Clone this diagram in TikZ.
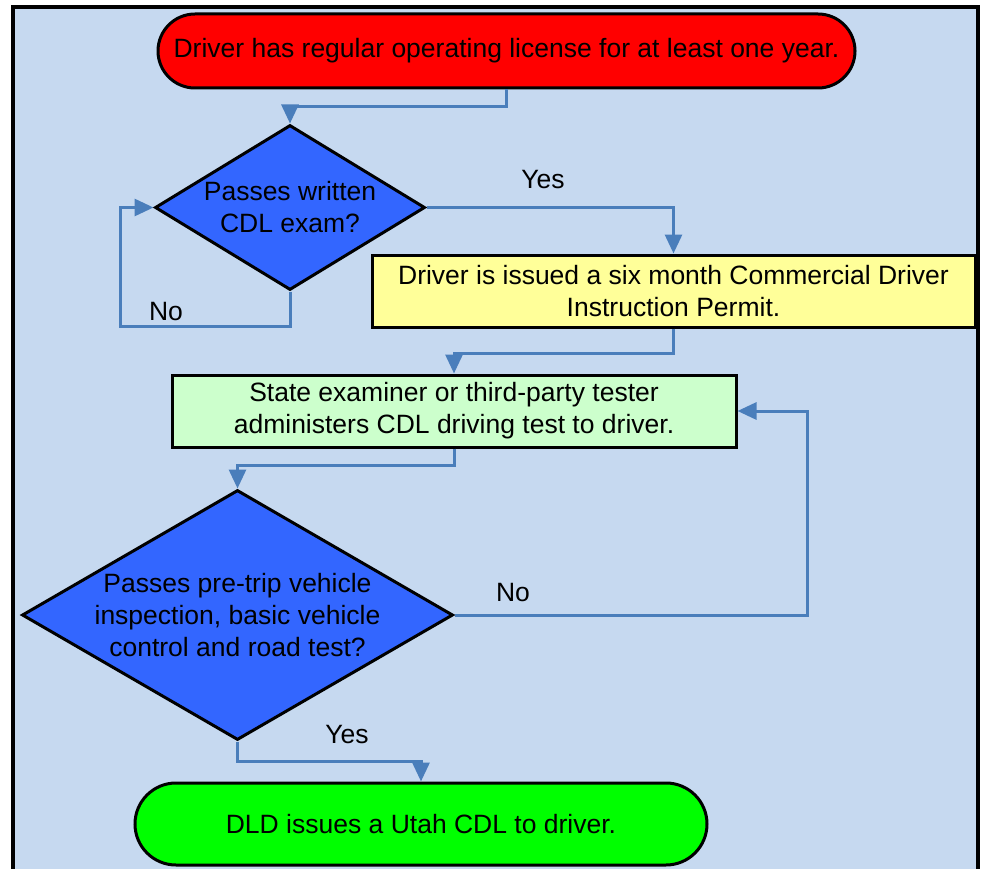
\documentclass[tikz,border=0pt]{standalone}
\usepackage{fontspec}
\setmainfont{Liberation Sans}
\usetikzlibrary{shapes.geometric,arrows.meta}
\definecolor{bgblue}{RGB}{198,217,240}
\definecolor{flowblue}{RGB}{74,126,187}
\definecolor{diablue}{RGB}{51,102,255}
\definecolor{permityellow}{RGB}{255,255,153}
\definecolor{testgreen}{RGB}{204,255,204}
\begin{document}
\begin{tikzpicture}[x=1pt,y=-1pt,
		every node/.style={font=\fontsize{26.5}{32}\selectfont},
		terminal/.style={draw,line width=3pt,align=center,inner sep=0pt},
		process/.style={draw,line width=3pt,align=center,inner sep=0pt},
		decision/.style={draw,line width=3pt,diamond,fill=diablue,align=center,inner sep=0pt},
		flow/.style={draw=flowblue,line width=3pt,-{Triangle[length=19pt,width=17pt]}},
		answer/.style={inner sep=0pt}]
			
			\useasboundingbox (0,0) rectangle (982,869);
			
			% frame
			\fill[bgblue] (13,7) rectangle (978,869);
			\draw[line width=4pt] (13,869) -- (13,7) -- (978,7) -- (978,869);
			
			% steps
			\node[terminal,fill=red,rounded corners=37pt,minimum width=697pt,minimum height=74pt] (start) at (506.5,51) {Driver has regular operating license for at least one year.};
			\node[decision,aspect=1.636,minimum width=270pt,minimum height=165pt] (written) at (290,207.5) {Passes written\\CDL exam?};
			\node[process,fill=permityellow,minimum width=603pt,minimum height=72pt] (permit) at (673.5,291) {Driver is issued a six month Commercial Driver\\Instruction Permit.};
			\node[process,fill=testgreen,minimum width=564pt,minimum height=72pt] (drivetest) at (454,411) {State examiner or third-party tester\\administers CDL driving test to driver.};
			\node[decision,aspect=1.724,inner xsep=-8pt,minimum width=431pt,minimum height=250pt] (roadtest) at (237.5,615) {Passes pre-trip vehicle\\inspection, basic vehicle\\control and road test?};
			\node[terminal,fill=green,rounded corners=41pt,minimum width=572pt,minimum height=82pt] (cdl) at (421,824) {DLD issues a Utah CDL to driver.};
			
			% connectors
			\draw[flow] (start.south) -- ++(0,17) -| (written.north);
			\draw[flow] (written.east) -| (permit.north);
			\draw[flow] (written.south) -- ++(0,35) -- ++(-170,0) |- (written.west);
			\draw[flow] (permit.south) -- ++(0,25) -| (drivetest.north);
			\draw[flow] (drivetest.south) -- ++(0,17) -| (roadtest.north);
			\draw[flow] (roadtest.east) -- ++(353,0) |- (drivetest.east);
			\draw[flow] (roadtest.south) -- ++(0,20) -| (cdl.north);
			
			% answers
			\node[answer] (yes1) at (543,180) {Yes};
			\node[answer] (no1) at (166,312) {No};
			\node[answer] (no2) at (513,593) {No};
			\node[answer] (yes2) at (347,735) {Yes};
			
		\end{tikzpicture}
\end{document}
